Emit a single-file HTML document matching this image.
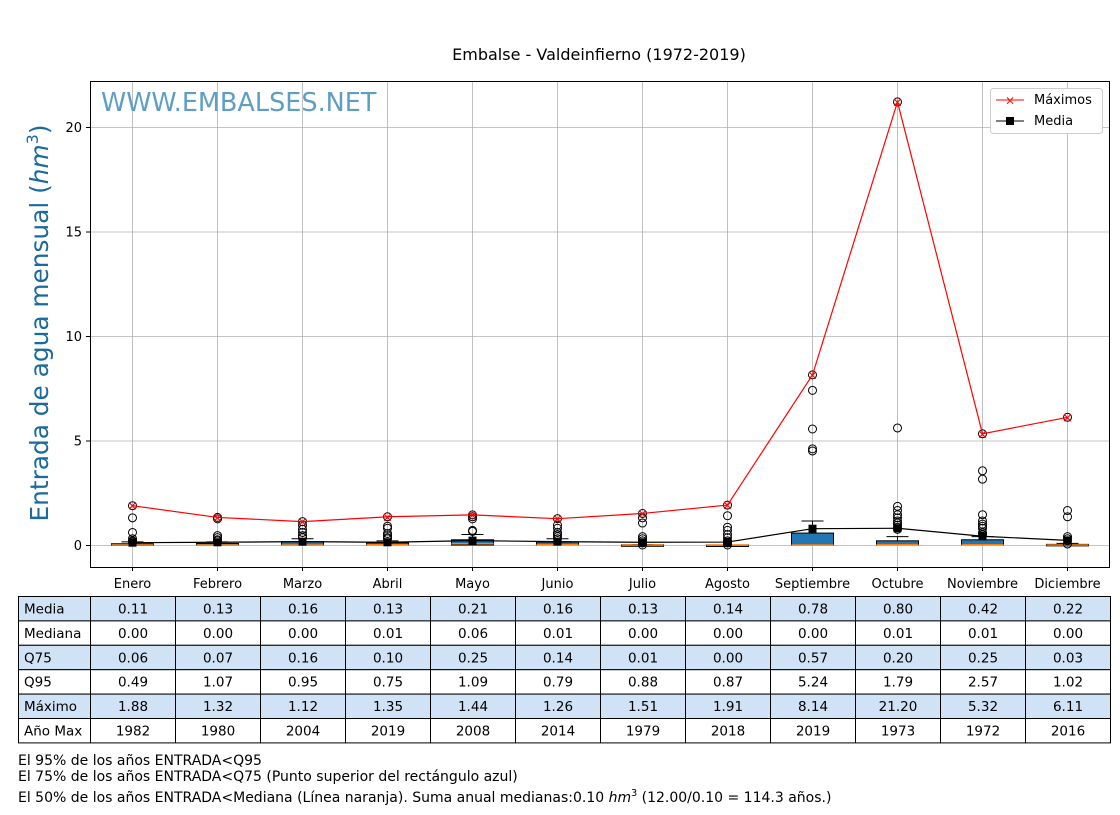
<!DOCTYPE html>
<html><head><meta charset="utf-8"><style>
body{margin:0;background:#fff;width:1120px;height:810px;overflow:hidden;font-family:"Liberation Sans","DejaVu Sans",sans-serif}
svg text{font-family:"DejaVu Sans","Liberation Sans",sans-serif}
</style></head><body>
<svg id="chart" width="1120" height="810" xmlns="http://www.w3.org/2000/svg">
<text x="599" y="60" font-size="16" text-anchor="middle">Embalse - Valdeinfierno (1972-2019)</text>
<g id="grid"></g>
<rect x="90.5" y="81.5" width="1019" height="486" fill="none" stroke="#000"/>
<text x="101" y="111" font-size="25.5" fill="#5f9ec4">WWW.EMBALSES.NET</text>
<text transform="translate(48,323) rotate(-90)" font-size="24.8" fill="#1a6a9e" text-anchor="middle">Entrada de agua mensual (<tspan font-style="italic">hm</tspan><tspan font-size="16" dy="-10">3</tspan><tspan dy="10">)</tspan></text>
<g id="marks"></g>
<g>
<rect x="990.5" y="88.5" width="112" height="45" rx="3" fill="#fff" stroke="#ccc"/>
<line x1="996" y1="100" x2="1024" y2="100" stroke="red"/><text x="1010" y="104.5" font-size="12" text-anchor="middle" fill="red">×</text>
<text x="1034" y="104" font-size="13">Máximos</text>
<line x1="996" y1="121" x2="1024" y2="121" stroke="#000"/><rect x="1006" y="117" width="8" height="8" fill="#000"/>
<text x="1034" y="125" font-size="13">Media</text>
</g>
<g id="table"></g>
<text x="18" y="765" font-size="14">El 95% de los años ENTRADA&lt;Q95</text>
<text x="18" y="781" font-size="14">El 75% de los años ENTRADA&lt;Q75 (Punto superior del rectángulo azul)</text>
<text x="18" y="802" font-size="14">El 50% de los años ENTRADA&lt;Mediana (Línea naranja). Suma anual medianas:0.10 <tspan font-style="italic">hm</tspan><tspan font-size="9.5" dy="-6">3</tspan><tspan dy="6"> (12.00/0.10 = 114.3 años.)</tspan></text>
</svg>
<script>
const months=["Enero","Febrero","Marzo","Abril","Mayo","Junio","Julio","Agosto","Septiembre","Octubre","Noviembre","Diciembre"];
const media=[0.11,0.13,0.16,0.13,0.21,0.16,0.13,0.14,0.78,0.80,0.42,0.22];
const mediana=[0.00,0.00,0.00,0.01,0.06,0.01,0.00,0.00,0.00,0.01,0.01,0.00];
const q75=[0.06,0.07,0.16,0.10,0.25,0.14,0.01,0.00,0.57,0.20,0.25,0.03];
const q95=[0.49,1.07,0.95,0.75,1.09,0.79,0.88,0.87,5.24,1.79,2.57,1.02];
const maximo=[1.88,1.32,1.12,1.35,1.44,1.26,1.51,1.91,8.14,21.20,5.32,6.11];
const anoMax=[1982,1980,2004,2019,2008,2014,1979,2018,2019,1973,1972,2016];
const whiskerTop=[0.15,0.15,0.3,0.2,0.5,0.3,0.02,0.0,1.15,0.4,0.4,0.08];
const outliers=[[1.88,1.3,0.6,0.3,0.2,0.15],[1.32,1.25,0.45,0.35,0.25,0.2],[1.12,0.95,0.75,0.6,0.45,0.35],[1.35,0.9,0.8,0.55,0.45,0.35,0.3],[1.44,1.35,1.25,0.7,0.65],[1.26,0.95,0.8,0.6,0.5,0.4,0.3],[1.51,1.3,1.05,0.4,0.3,0.2,0.1,0.0],[1.91,1.4,0.85,0.7,0.5,0.35,0.2,0.1,0.0],[8.14,7.4,5.55,4.6,4.5],[21.2,5.6,1.85,1.65,1.45,1.3,1.15,1.05,0.95,0.85,0.75],[5.32,3.55,3.15,1.45,1.15,1.0,0.9,0.8,0.6,0.5],[6.11,1.65,1.35,0.4,0.3,0.2,0.05]];
const yTicks=[0,5,10,15,20];
const NS="http://www.w3.org/2000/svg";
const X=i=>132+i*85, Y=v=>545-v*20.9;
function mk(tag,attrs,parent,txt){const e=document.createElementNS(NS,tag);for(const k in attrs)e.setAttribute(k,attrs[k]);if(txt!==undefined)e.textContent=txt;parent.appendChild(e);return e;}
const grid=document.getElementById('grid'),marks=document.getElementById('marks'),tbl=document.getElementById('table');
yTicks.forEach(t=>{const y=Y(t)+0.5;
mk('line',{x1:90,x2:1109,y1:y,y2:y,stroke:'#b0b0b0','stroke-width':0.8},grid);
mk('line',{x1:86,x2:90,y1:y,y2:y,stroke:'#000'},grid);
const tx=mk('text',{x:82,y:y+4.5,'font-size':13,'text-anchor':'end'},grid,String(t));

});
months.forEach((m,i)=>{const x=X(i)+0.5;
mk('line',{x1:x,x2:x,y1:81,y2:567,stroke:'#b0b0b0','stroke-width':0.8},grid);
mk('line',{x1:x,x2:x,y1:567,y2:571,stroke:'#000'},grid);
const tx=mk('text',{x:x,y:588,'font-size':13,'text-anchor':'middle'},grid,m);


const g=mk('g',{},marks);


mk('line',{x1:x,x2:x,y1:Y(q75[i]),y2:Y(whiskerTop[i]),stroke:'#000'},g);
mk('line',{x1:x-11,x2:x+11,y1:Y(whiskerTop[i]),y2:Y(whiskerTop[i]),stroke:'#000'},g);
const h=Math.max(Y(0)-Y(q75[i]),1.5);
mk('rect',{x:x-21,y:Y(q75[i]),width:42,height:h,fill:'#1f77b4',stroke:'#000'},g);
mk('line',{x1:x-21,x2:x+21,y1:Y(mediana[i]),y2:Y(mediana[i]),stroke:'#ff7f0e','stroke-width':1.5},g);
outliers[i].forEach(v=>mk('circle',{cx:x,cy:Y(v),r:4,fill:'none',stroke:'#000'},g));
});
let pm='',pa='';
months.forEach((m,i)=>{pm+=(i?'L':'M')+(X(i)+0.5)+','+Y(maximo[i]);pa+=(i?'L':'M')+(X(i)+0.5)+','+Y(media[i]);});
const lm=mk('path',{d:pm,fill:'none',stroke:'red','stroke-width':1.2},marks);


const la=mk('path',{d:pa,fill:'none',stroke:'#000','stroke-width':1.2},marks);


months.forEach((m,i)=>{const x=X(i)+0.5;
const r=mk('rect',{x:x-4,y:Y(media[i])-4,width:8,height:8,fill:'#000'},marks);


const c=mk('text',{x:x,y:Y(maximo[i])+4.5,'font-size':13,'text-anchor':'middle',fill:'red'},marks,'×');

});
const rows=[["Media",media.map(v=>v.toFixed(2)),true],["Mediana",mediana.map(v=>v.toFixed(2)),false],["Q75",q75.map(v=>v.toFixed(2)),true],["Q95",q95.map(v=>v.toFixed(2)),false],["Máximo",maximo.map(v=>v.toFixed(2)),true],["Año Max",anoMax.map(String),false]];
const rh=24.4;
rows.forEach((r,ri)=>{const y=596.5+ri*rh;const fill=r[2]?'#d0e2f5':'#fff';
const g=mk('g',{},tbl);


mk('rect',{x:18.5,y:y,width:72,height:rh,fill:fill,stroke:'#000'},g);
mk('text',{x:24,y:y+17,'font-size':13.5},g,r[0]);
r[1].forEach((v,ci)=>{const x=90.5+ci*85;
mk('rect',{x:x,y:y,width:85,height:rh,fill:fill,stroke:'#000'},g);
mk('text',{x:x+42.5,y:y+17,'font-size':13.5,'text-anchor':'middle'},g,v);});});
</script>
</body></html>
